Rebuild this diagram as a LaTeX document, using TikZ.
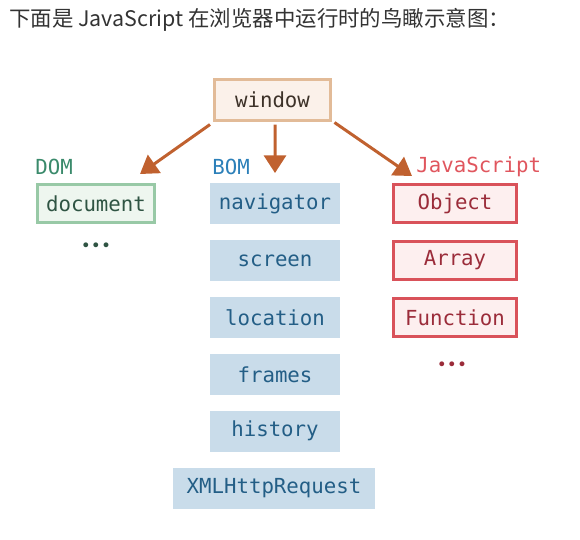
\documentclass[tikz,border=0pt]{standalone}
\usepackage{fontspec}
\setmonofont{DejaVu Sans Mono}
\newfontfamily\cjk{Noto Sans CJK SC}
\usetikzlibrary{arrows.meta}
\definecolor{winfill}{HTML}{FBF1EA}
\definecolor{windraw}{HTML}{E2BB98}
\definecolor{wintext}{HTML}{3D3229}
\definecolor{domfill}{HTML}{EEF6EF}
\definecolor{domdraw}{HTML}{98C9A6}
\definecolor{domtext}{HTML}{2F5443}
\definecolor{domlabel}{HTML}{3A8A6B}
\definecolor{bomfill}{HTML}{C9DCEA}
\definecolor{bomtext}{HTML}{235E86}
\definecolor{bomlabel}{HTML}{2C80B9}
\definecolor{jsfill}{HTML}{FDEFEF}
\definecolor{jsdraw}{HTML}{D9525A}
\definecolor{jstext}{HTML}{9B2C3A}
\definecolor{jslabel}{HTML}{E0565E}
\definecolor{arrowc}{HTML}{C0612F}
\begin{document}
\begin{tikzpicture}[x=0.02cm,y=-0.02cm,
  every node/.style={font=\ttfamily\fontsize{11.8}{14}\selectfont,inner sep=0pt},
  winbox/.style={draw=windraw,fill=winfill,text=wintext,line width=1.7pt,minimum width=2.32cm,minimum height=0.82cm},
  dombox/.style={draw=domdraw,fill=domfill,text=domtext,line width=1.7pt,minimum width=2.34cm,minimum height=0.76cm},
  bombox/.style={fill=bomfill,text=bomtext,minimum width=2.6cm,minimum height=0.82cm},
  jsbox/.style={draw=jsdraw,fill=jsfill,text=jstext,line width=1.7pt,minimum width=2.46cm,minimum height=0.76cm},
  grp/.style={anchor=west},
  more/.style={font=\ttfamily\fontsize{9.5}{10}\selectfont},
  link/.style={draw=arrowc,line width=1.7pt,-{Triangle[length=10pt,width=12.5pt]}}]
  \useasboundingbox (0,0) rectangle (580,539);
  % title
  \node[anchor=west,font=\cjk\fontsize{12.2}{14}\selectfont,text={black!80}] (title) at (9,20) {下面是 JavaScript 在浏览器中运行时的鸟瞰示意图：};
  % window
  \node[winbox] (window) at (272.5,99.5) {window};
  \coordinate (domtip) at (140,174);
  \coordinate (bomtip) at (275,173);
  \coordinate (jstip) at (412,176);
  % DOM
  \node[grp,text=domlabel] (dom) at (35,167) {DOM};
  \node[dombox] (document) at (96,203.5) {document};
  \node[more,text=domtext] (domdots) at (96,247) {•••};
  % BOM
  \node[grp,text=bomlabel] (bom) at (212,167) {BOM};
  \node[bombox] (navigator) at (275,203.5) {navigator};
  \node[bombox] (screen) at (275,260.5) {screen};
  \node[bombox] (location) at (275,317.5) {location};
  \node[bombox] (frames) at (275,374.5) {frames};
  \node[bombox] (history) at (275,431) {history};
  \node[bombox,minimum width=4.04cm] (xhr) at (274,488) {XMLHttpRequest};
  % JavaScript
  \node[grp,text=jslabel] (js) at (416,167) {JavaScript};
  \node[jsbox] (object) at (455,203.5) {Object};
  \node[jsbox] (array) at (455,260.5) {Array};
  \node[jsbox] (function) at (455,317.5) {Function};
  \node[more,text=jstext] (jsdots) at (452,366) {•••};
  % links
  \draw[link] (window.south west) ++(-3,3) -- (domtip);
  \draw[link] (window.south) ++(2.5,3) -- (bomtip);
  \draw[link] (window.south east) ++(2.5,1) -- (jstip);
\end{tikzpicture}
\end{document}
